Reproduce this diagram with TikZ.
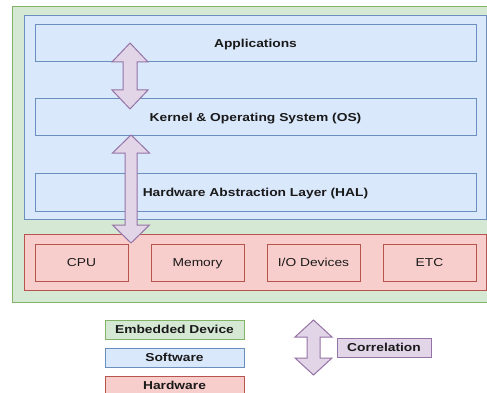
\documentclass[tikz,border=0pt]{standalone}
\usepackage{fontspec}
\usetikzlibrary{calc}
\setmainfont{Liberation Sans}[FakeStretch=1.2]
\definecolor{devfill}{HTML}{D5E8D4}
\definecolor{devline}{HTML}{82B366}
\definecolor{swfill}{HTML}{DAE8FC}
\definecolor{swline}{HTML}{6C8EBF}
\definecolor{hwfill}{HTML}{F8CECC}
\definecolor{hwline}{HTML}{B85450}
\definecolor{arfill}{HTML}{E1D5E7}
\definecolor{arline}{HTML}{9673A6}
\definecolor{ink}{HTML}{1A1A1A}

% block double arrow between two tips: #1 top tip, #2 bottom tip,
% #3 half head width, #4 half shaft width, #5 head length (all in pt)
\newcommand\blockdarrow[5]{%
  \path[corr] let \p1=(#1), \p2=(#2) in
    (\x1,\y1) -- (\x1+#3pt,\y1-#5pt) -- (\x1+#4pt,\y1-#5pt)
    -- (\x1+#4pt,\y2+#5pt) -- (\x1+#3pt,\y2+#5pt) -- (\x2,\y2)
    -- (\x1-#3pt,\y2+#5pt) -- (\x1-#4pt,\y2+#5pt)
    -- (\x1-#4pt,\y1-#5pt) -- (\x1-#3pt,\y1-#5pt) -- cycle;}

\begin{document}
\begin{tikzpicture}[x=1pt,y=-1pt,
  every node/.style={inner sep=0pt, outer sep=0pt, text=ink,
    text height=8.2pt, text depth=0pt},
  devbox/.style={draw=devline, fill=devfill, line width=1pt},
  swbox/.style={draw=swline, fill=swfill, line width=1pt, font=\fontsize{11.5}{13}\selectfont\bfseries},
  hwbox/.style={draw=hwline, fill=hwfill, line width=1pt, font=\fontsize{11.5}{13}\selectfont},
  legbox/.style={line width=1pt, font=\fontsize{11.5}{13}\selectfont\bfseries},
  corr/.style={draw=arline, fill=arfill, line width=1pt, line join=miter}]
\useasboundingbox (0,0) rectangle (487,393);
\fill[white] (0,0) rectangle (487,393);

% embedded device container
\node[devbox, minimum width=484pt, minimum height=295pt] (device) at (254,154.5) {};

% software layer
\node[draw=swline, fill=swfill, line width=1pt, minimum width=462pt, minimum height=203pt] (software) at (255,117.5) {};
\node[swbox, minimum width=441pt, minimum height=37pt] (app) at (255.5,43.5) {Applications};
\node[swbox, minimum width=441pt, minimum height=37pt] (kernel) at (255.5,117.5) {Kernel \& Operating System (OS)};
\node[swbox, minimum width=441pt, minimum height=38pt] (hal) at (255.5,192) {Hardware Abstraction Layer (HAL)};

% hardware layer
\node[draw=hwline, fill=hwfill, line width=1pt, minimum width=462pt, minimum height=56pt] (hardware) at (255,262) {};
\node[hwbox, minimum width=93pt, minimum height=37pt] (cpu) at (81.5,262.5) {CPU};
\node[hwbox, minimum width=93pt, minimum height=37pt] (mem) at (197.5,262.5) {Memory};
\node[hwbox, minimum width=93pt, minimum height=37pt] (io) at (313.5,262.5) {I/O Devices};
\node[hwbox, minimum width=93pt, minimum height=37pt] (etc) at (429.5,262.5) {ETC};

% correlation arrows
\coordinate (a1t) at (130,43);
\coordinate (a1b) at (130,109);
\blockdarrow{a1t}{a1b}{18}{7}{19}
\coordinate (a2t) at (131,135);
\coordinate (a2b) at (131,243);
\blockdarrow{a2t}{a2b}{18.5}{6}{18}

% legend
\node[legbox, draw=devline, fill=devfill, minimum width=139pt, minimum height=19pt] (legdev) at (174.5,329.5) {Embedded Device};
\node[legbox, draw=swline, fill=swfill, minimum width=139pt, minimum height=19pt] (legsw) at (174.5,357.5) {Software};
\node[legbox, draw=hwline, fill=hwfill, minimum width=139pt, minimum height=19pt] (leghw) at (174.5,385.5) {Hardware};
\coordinate (lat) at (313.5,320);
\coordinate (lab) at (313.5,375);
\blockdarrow{lat}{lab}{18.5}{6.5}{17}
\node[legbox, draw=arline, fill=arfill, minimum width=94pt, minimum height=19pt] (legcorr) at (384,347.5) {Correlation};
\end{tikzpicture}
\end{document}
